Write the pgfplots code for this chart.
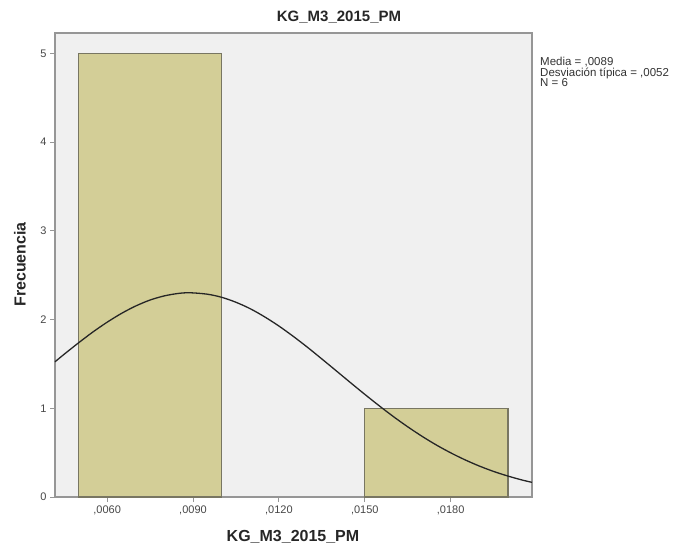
\documentclass[border=0pt]{standalone}
\usepackage{pgfplots}
\pgfplotsset{compat=1.18}
\usepackage{fontspec}
\setmainfont{Liberation Sans}
\definecolor{bgc}{RGB}{240,240,240}
\definecolor{barfill}{RGB}{211,206,151}
\definecolor{baredge}{RGB}{120,118,98}
\definecolor{framec}{RGB}{150,150,150}
\definecolor{tickc}{RGB}{70,70,70}
\begin{document}
\begin{tikzpicture}[x=1pt,y=1pt]
\useasboundingbox (0,0) rectangle (679,551);
\begin{axis}[
  at={(55pt,54pt)}, anchor=south west,
  scale only axis, width=477pt, height=464pt,
  xmin=0.00418, xmax=0.02084, ymin=0, ymax=5.23,
  axis background/.style={fill=bgc},
  axis line style={framec, line width=1.5pt},
  xtick={0.006,0.009,0.012,0.015,0.018},
  xticklabels={{,0060},{,0090},{,0120},{,0150},{,0180}},
  ytick={0,1,2,3,4,5},
  scaled x ticks=false,
  tick align=outside, tick pos=left,
  major tick length=5pt,
  tick style={framec, line width=1pt},
  /pgf/number format/assume math mode=true,
  tick label style={font=\fontsize{11}{11}\selectfont, text=tickc},
  clip=false,
]
\addplot[fill=barfill, draw=baredge, line width=1.3pt] coordinates {(0.005,0) (0.005,5) (0.010,5) (0.010,0)} -- cycle;
\addplot[fill=barfill, draw=baredge, line width=1.3pt] coordinates {(0.015,0) (0.015,1) (0.020,1) (0.020,0)} -- cycle;
\addplot[black!85, line width=1.3pt, smooth] coordinates {
(0.00418,1.524) (0.0045,1.609) (0.0050,1.737) (0.0055,1.859) (0.0060,1.970)
(0.0065,2.069) (0.0070,2.153) (0.0075,2.220) (0.0080,2.267) (0.0085,2.295)
(0.0089,2.302) (0.0095,2.286) (0.0100,2.251) (0.0105,2.195) (0.0110,2.122)
(0.0115,2.031) (0.0120,1.927) (0.0125,1.811) (0.0130,1.687) (0.0135,1.556)
(0.0140,1.423) (0.0145,1.289) (0.0150,1.157) (0.0155,1.029) (0.0160,0.906)
(0.0165,0.791) (0.0170,0.684) (0.0175,0.586) (0.0180,0.498) (0.0185,0.419)
(0.0190,0.349) (0.0195,0.288) (0.0200,0.236) (0.0205,0.191) (0.02084,0.165)};
\end{axis}
\node[font=\fontsize{15}{15}\selectfont\bfseries, text=black!85] at (339,533.5) {KG\_M3\_2015\_PM};
\node[font=\fontsize{16}{16}\selectfont\bfseries, text=black!85] at (293,513) {};
\node[font=\fontsize{16}{16}\selectfont\bfseries, text=black!85] at (293,14) {KG\_M3\_2015\_PM};
\node[font=\fontsize{16}{16}\selectfont\bfseries, text=black!85, rotate=90] at (20,286.5) {Frecuencia};
\node[anchor=north west, align=left, inner sep=0pt, font=\fontsize{11.5}{10.5}\selectfont, text=black!80] at (540,494) {Media = ,0089\\Desviación típica = ,0052\\N = 6};
\end{tikzpicture}
\end{document}
